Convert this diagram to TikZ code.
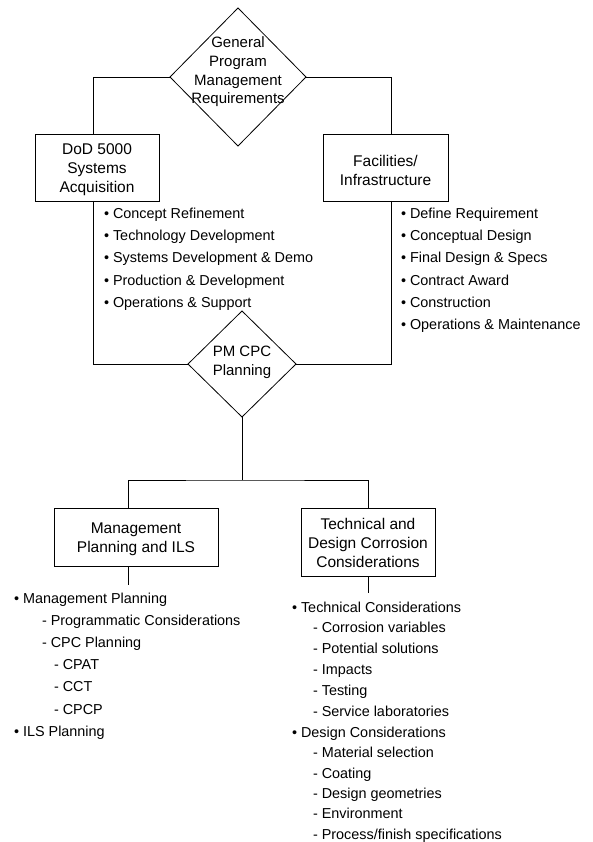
\documentclass[tikz,border=0pt]{standalone}
\usepackage{fontspec}
\setmainfont{Liberation Sans}
\usetikzlibrary{shapes.geometric,calc}

\begin{document}
\begin{tikzpicture}[x=1pt,y=-1pt,
  line width=0.8pt,
  every node/.style={inner sep=0pt, outer sep=0pt},
  boxnode/.style={draw, rectangle},
  btext/.style={align=center, font=\fontsize{15.5}{19.3}\selectfont},
  decision/.style={draw, diamond, inner sep=0pt},
  dtext/.style={align=center, font=\fontsize{15}{18.7}\selectfont},
  item/.style={anchor=base west, font=\fontsize{14.4}{16}\selectfont}
]
\useasboundingbox (0,0) rectangle (593,842);

% decision diamonds
\node[decision, minimum width=136, minimum height=138] (gp) at (238,77) {};
\node[dtext] (gpt) at (238,72) {General\\Program\\Management\\Requirements};
\node[decision, minimum width=108, minimum height=106] (pm) at (242,364) {};
\node[dtext] (pmt) at (242,362) {PM CPC\\Planning};

% boxes and their titles
\node[boxnode, minimum width=124, minimum height=67] (dod) at (97,167.5) {};
\node[btext] (dodt) at (97,169.5) {DoD 5000\\Systems\\Acquisition};
\node[boxnode, minimum width=125, minimum height=67] (fac) at (385.5,167.5) {};
\node[btext] (fact) at (385.5,170.5) {Facilities/\\Infrastructure};
\node[boxnode, minimum width=164, minimum height=58] (mgmt) at (136,537) {};
\node[btext] (mgmtt) at (136,539.5) {Management\\Planning and ILS};
\node[boxnode, minimum width=134, minimum height=68] (tech) at (368,542) {};
\node[btext] (techt) at (368,543) {Technical and\\Design Corrosion\\Considerations};

% connectors
\coordinate (split) at (242,480);
\draw (gp.west) -| ($(dod.north)+(-4,0)$);
\draw (gp.east) -| ($(fac.north)+(5.5,0)$);
\draw ($(dod.south)+(-4,0)$) |- (pm.west);
\draw ($(fac.south)+(5.5,0)$) |- (pm.east);
\draw (pm.south) -- (split);
\draw ($(mgmt.north)+(-8,0)$) |- (split) -| (tech.north);
\draw ($(mgmt.south)+(-8,0)$) -- ++(0,19);
\draw (tech.south) -- ++(0,17);

% acquisition phases
\foreach \t [count=\i from 0] in {Concept Refinement, Technology Development,
    Systems Development \& Demo, Production \& Development, Operations \& Support}
  \node[item, name=dl\i] at (104,218.5+22.2*\i) {• \t};

% facilities phases
\foreach \t [count=\i from 0] in {Define Requirement, Conceptual Design,
    Final Design \& Specs, Contract Award, Construction, Operations \& Maintenance}
  \node[item, name=fl\i] at (401,218.5+22.2*\i) {• \t};

% management planning items
\node[item] (m0) at (14,603)   {• Management Planning};
\node[item] (m1) at (42,625.2) {- Programmatic Considerations};
\node[item] (m2) at (42,647.4) {- CPC Planning};
\node[item] (m3) at (54,669.6) {- CPAT};
\node[item] (m4) at (54,691.8) {- CCT};
\node[item] (m5) at (54,714)   {- CPCP};
\node[item] (m6) at (14,736.2) {• ILS Planning};

% technical and design items
\node[item] (t0) at (292,612) {• Technical Considerations};
\foreach \t [count=\i from 1] in {Corrosion variables, Potential solutions,
    Impacts, Testing, Service laboratories}
  \node[item, name=t\i] at (313,612+20.8*\i) {- \t};
\node[item] (d0) at (292,737.5) {• Design Considerations};
\foreach \t [count=\i from 1] in {Material selection, Coating, Design geometries,
    Environment, Process/finish specifications}
  \node[item, name=d\i] at (313,737.5+20.3*\i) {- \t};
\end{tikzpicture}
\end{document}
